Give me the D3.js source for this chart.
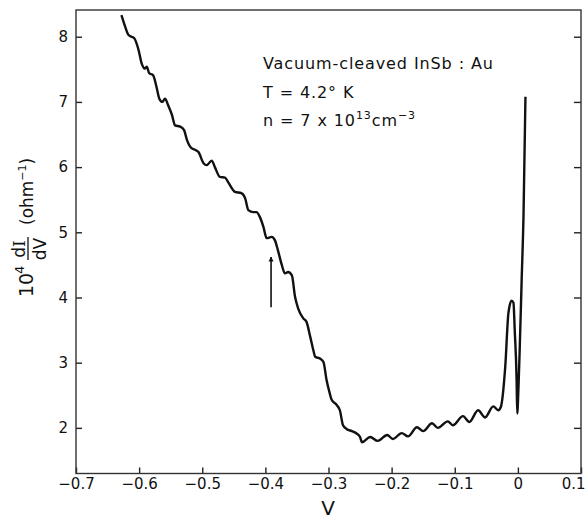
<!DOCTYPE html>
<html>
<head>
<meta charset="utf-8">
<script src="https://cdn.jsdelivr.net/npm/d3@7/dist/d3.min.js"></script>
<style>
  body { margin: 0; background: #fff; }
  text { font-family: "DejaVu Sans", sans-serif; fill: #111; }
</style>
</head>
<body>
<script>
// dI/dV trace (V in volts, 10^4 dI/dV in 1/ohm)
const voltage = [
  -0.628, -0.622, -0.617, -0.612, -0.608, -0.601, -0.596, -0.591, -0.588, -0.584,
  -0.578, -0.572, -0.568, -0.563, -0.559, -0.554, -0.548, -0.543, -0.535, -0.529,
  -0.524, -0.517, -0.510, -0.506, -0.498, -0.493, -0.485, -0.480, -0.472, -0.464,
  -0.459, -0.448, -0.438, -0.432, -0.427, -0.419, -0.414, -0.409, -0.403, -0.398,
  -0.390, -0.385, -0.380, -0.374, -0.369, -0.364, -0.358, -0.353, -0.348, -0.340,
  -0.335, -0.329, -0.324, -0.321, -0.313, -0.308, -0.303, -0.298, -0.295, -0.287,
  -0.282, -0.277, -0.271, -0.263, -0.255, -0.250, -0.247, -0.234, -0.222, -0.207,
  -0.198, -0.184, -0.174, -0.160, -0.150, -0.136, -0.127, -0.111, -0.103, -0.087,
  -0.077, -0.063, -0.052, -0.039, -0.031, -0.027, -0.020, -0.015, -0.010, -0.007,
  -0.005, -0.002, -0.001, 0.001, 0.003, 0.006, 0.009, 0.012
];
const conductance = [
  8.33, 8.15, 8.03, 8.00, 7.98, 7.80, 7.59, 7.51, 7.54, 7.44,
  7.41, 7.21, 7.05, 7.00, 7.05, 6.95, 6.80, 6.64, 6.62, 6.57,
  6.41, 6.29, 6.26, 6.23, 6.06, 6.03, 6.10, 6.00, 5.85, 5.84,
  5.77, 5.62, 5.60, 5.52, 5.34, 5.31, 5.31, 5.24, 5.08, 4.91,
  4.93, 4.88, 4.72, 4.50, 4.37, 4.39, 4.34, 4.01, 3.83, 3.68,
  3.63, 3.40, 3.19, 3.09, 3.06, 3.01, 2.73, 2.53, 2.43, 2.35,
  2.27, 2.04, 1.98, 1.95, 1.91, 1.86, 1.78, 1.86, 1.80, 1.89,
  1.83, 1.92, 1.87, 2.01, 1.95, 2.07, 2.00, 2.10, 2.04, 2.18,
  2.09, 2.27, 2.16, 2.33, 2.27, 2.32, 2.94, 3.76, 3.95, 3.92,
  3.50, 2.73, 2.22, 2.63, 3.24, 4.27, 5.29, 7.08
];

// axes
const xTicks = [-0.7, -0.6, -0.5, -0.4, -0.3, -0.2, -0.1, 0, 0.1];
const xTickLabels = ["\u22120.7", "\u22120.6", "\u22120.5", "\u22120.4", "\u22120.3", "\u22120.2", "\u22120.1", "0", "0.1"];
const yTicks = [2, 3, 4, 5, 6, 7, 8];
const xDomain = [-0.7, 0.1];
const yDomain = [1.3, 8.41];

// arrow marking the feature near -0.39 V
const arrowV = [-0.391, -0.391];
const arrowG = [3.85, 4.62];

const width = 587, height = 521;
const margin = { top: 10, right: 6, bottom: 47.5, left: 76 };

const svg = d3.select('body').append('svg')
  .attr('width', width)
  .attr('height', height);

const x = d3.scaleLinear().domain(xDomain).range([margin.left, width - margin.right]);
const y = d3.scaleLinear().domain(yDomain).range([height - margin.bottom, margin.top]);

svg.append('defs').append('marker')
  .attr('id', 'head')
  .attr('viewBox', '0 0 10 10')
  .attr('refX', 9).attr('refY', 5)
  .attr('markerWidth', 5).attr('markerHeight', 8)
  .attr('markerUnits', 'userSpaceOnUse')
  .attr('orient', 'auto')
  .append('path')
  .attr('d', 'M0,0 L10,5 L0,10 Z')
  .attr('fill', '#111');

// bottom axis
const xAxis = d3.axisBottom(x)
  .tickValues(xTicks)
  .tickFormat((d, i) => xTickLabels[i])
  .tickSizeInner(-6).tickSizeOuter(0).tickPadding(5);
const gx = svg.append('g')
  .attr('transform', `translate(0,${height - margin.bottom})`)
  .call(xAxis);
gx.attr('font-size', 15).attr('font-family', '"DejaVu Sans", sans-serif');
// last label sits against the page edge, keep it inside
gx.selectAll('.tick text').filter(d => d === 0.1)
  .attr('text-anchor', 'end').attr('dx', 4);

// left axis
const yAxis = d3.axisLeft(y)
  .tickValues(yTicks)
  .tickFormat(d3.format('d'))
  .tickSizeInner(-6).tickSizeOuter(0).tickPadding(8);
const gy = svg.append('g')
  .attr('transform', `translate(${margin.left},0)`)
  .call(yAxis);
gy.attr('font-size', 15).attr('font-family', '"DejaVu Sans", sans-serif');

// right axis, ticks only
svg.append('g')
  .attr('transform', `translate(${width - margin.right},0)`)
  .call(d3.axisRight(y).tickValues(yTicks).tickFormat('').tickSizeInner(-7).tickSizeOuter(0));

svg.selectAll('.domain').remove();
svg.selectAll('.tick line').attr('stroke', '#222').attr('stroke-width', 1.4);

// frame
svg.append('rect')
  .attr('x', margin.left).attr('y', margin.top)
  .attr('width', width - margin.left - margin.right)
  .attr('height', height - margin.top - margin.bottom)
  .attr('fill', 'none')
  .attr('stroke', '#333')
  .attr('stroke-width', 1.4);

// trace
const pts = voltage.map((v, i) => [v, conductance[i]]);
svg.append('path')
  .datum(pts)
  .attr('d', d3.line()
    .x(d => x(d[0]))
    .y(d => y(d[1]))
    .curve(d3.curveMonotoneX))
  .attr('fill', 'none')
  .attr('stroke', '#111')
  .attr('stroke-width', 2.4)
  .attr('stroke-linejoin', 'round');

// arrow
svg.append('line')
  .attr('x1', x(arrowV[0])).attr('y1', y(arrowG[0]))
  .attr('x2', x(arrowV[1])).attr('y2', y(arrowG[1]))
  .attr('stroke', '#111')
  .attr('stroke-width', 1.6)
  .attr('marker-end', 'url(#head)');

// annotation
const note = svg.append('g').attr('font-size', 16);
note.append('text').attr('x', 263).attr('y', 69).attr('letter-spacing', 0.9)
  .text('Vacuum-cleaved  InSb : Au');
note.append('text').attr('x', 263).attr('y', 98).attr('letter-spacing', 0.9)
  .text('T = 4.2\u00b0 K');
const nt = note.append('text').attr('x', 263).attr('y', 126).attr('letter-spacing', 0.9);
nt.append('tspan').text('n = 7 x 10');
nt.append('tspan').attr('dy', -7).attr('font-size', 11).text('13');
nt.append('tspan').attr('dy', 7).text('cm');
nt.append('tspan').attr('dy', -7).attr('font-size', 11).text('\u22123');

// x label
svg.append('text')
  .attr('x', 328).attr('y', 515)
  .attr('text-anchor', 'middle')
  .attr('font-size', 20)
  .text('V');

// y label, rotated, with the dI/dV fraction
const yl = svg.append('g').attr('transform', 'translate(33,297) rotate(-90)');
yl.append('text').attr('x', 0).attr('y', 0).attr('font-size', 19).text('10');
yl.append('text').attr('x', 23).attr('y', -9).attr('font-size', 13).text('4');
const num = yl.append('text').attr('x', 48).attr('y', -8).attr('font-size', 17).attr('text-anchor', 'middle');
num.append('tspan').text('d');
num.append('tspan').attr('font-family', '"DejaVu Serif", serif').text('I');
yl.append('line').attr('x1', 37).attr('x2', 60).attr('y1', -5).attr('y2', -5)
  .attr('stroke', '#111').attr('stroke-width', 1.3);
yl.append('text').attr('x', 48).attr('y', 13).attr('font-size', 17).attr('text-anchor', 'middle').text('dV');
const oh = yl.append('text').attr('x', 72).attr('y', 0).attr('font-size', 17);
oh.append('tspan').text('(ohm');
oh.append('tspan').attr('dy', -7).attr('font-size', 11).text('\u22121');
oh.append('tspan').attr('dy', 7).text(')');
</script>
</body>
</html>
